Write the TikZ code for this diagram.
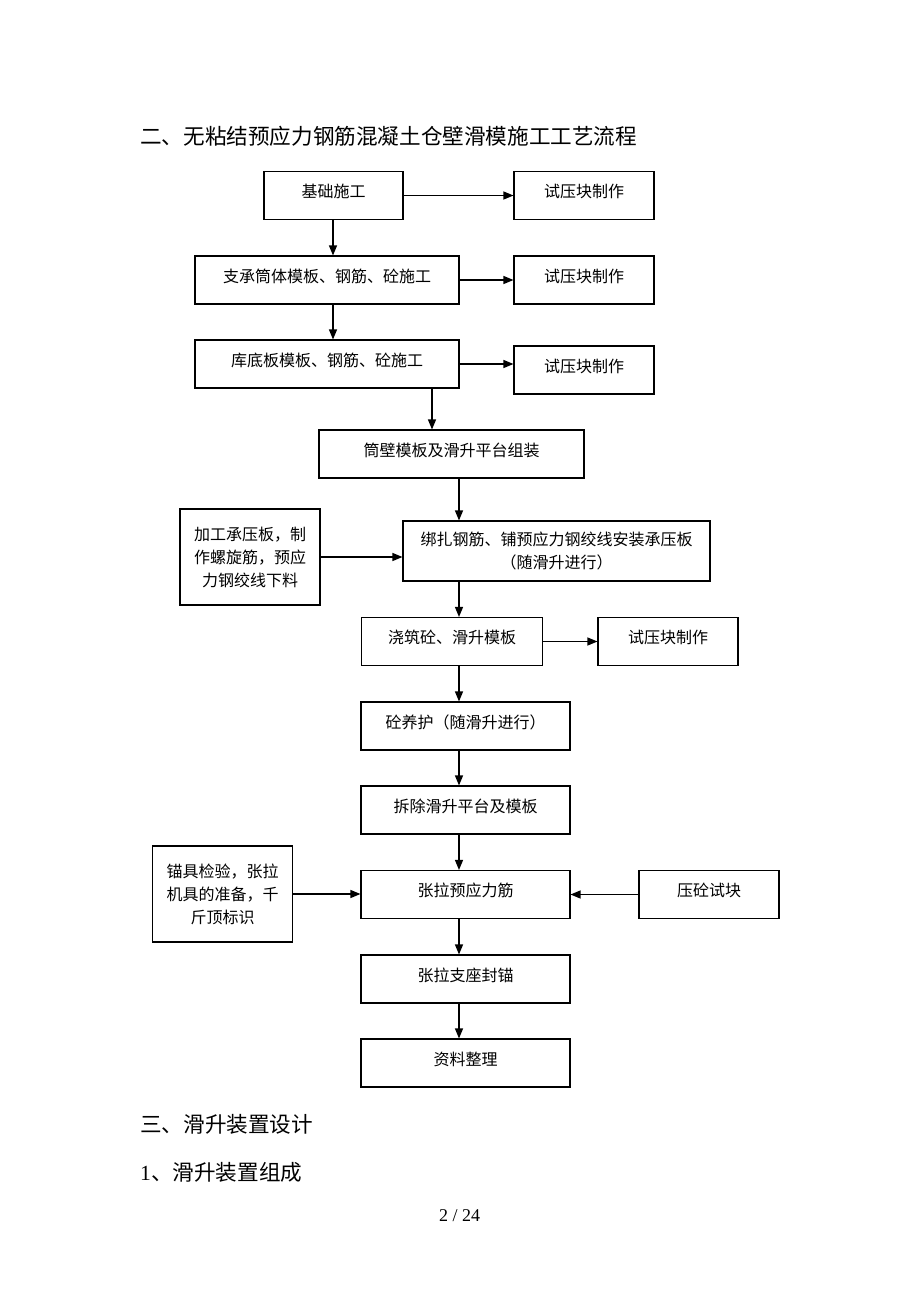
\documentclass[tikz,border=0pt]{standalone}
\usepackage{fontspec}
\setmainfont{Liberation Serif}
\newfontfamily\cjk{Noto Sans CJK SC}
\usetikzlibrary{arrows.meta}

\begin{document}
\begin{tikzpicture}[x=1pt, y=-1pt,
    stage/.style={rectangle, draw, line width=1.1pt, inner sep=0pt, text height=26pt, text depth=22pt,
        font=\cjk\fontsize{16pt}{23pt}\selectfont},
    note/.style={rectangle, draw, line width=1.1pt, inner sep=0pt, align=center,
        font=\cjk\fontsize{16pt}{23pt}\selectfont},
    heading/.style={anchor=west, inner sep=0pt, font=\cjk\fontsize{21.6pt}{26pt}\selectfont},
    arrow/.style={-{Triangle[length=10pt,width=8pt]}, line width=1.2pt}]

    \useasboundingbox (0,0) rectangle (920,1302);

    \node[heading] (title) at (140,136.5) {二、无粘结预应力钢筋混凝土仓壁滑模施工工艺流程};

    % main line
    \node[stage, minimum width=139pt] (jc) at (333.5,195.5) {基础施工};
    \node[stage, minimum width=264pt] (zc) at (327,280) {支承筒体模板、钢筋、砼施工};
    \node[stage, minimum width=264pt] (kd) at (327,364) {库底板模板、钢筋、砼施工};
    \node[stage, minimum width=265pt] (tb) at (451.5,454) {筒壁模板及滑升平台组装};
    \node[note, minimum width=307pt, minimum height=60pt] (bz) at (556.5,551) {绑扎钢筋、铺预应力钢绞线安装承压板\\（随滑升进行）};
    \node[stage, minimum width=181pt] (jz) at (452,641.5) {浇筑砼、滑升模板};
    \node[stage, minimum width=209pt] (yh) at (465.5,726) {砼养护（随滑升进行）};
    \node[stage, minimum width=209pt] (cc) at (465.5,810) {拆除滑升平台及模板};
    \node[stage, minimum width=209pt] (zl) at (465.5,894.5) {张拉预应力筋};
    \node[stage, minimum width=209pt] (fm) at (465.5,979) {张拉支座封锚};
    \node[stage, minimum width=209pt] (zlzl) at (465.5,1063) {资料整理};

    % side boxes
    \node[stage, minimum width=140pt] (sy1) at (584,195.5) {试压块制作};
    \node[stage, minimum width=140pt] (sy2) at (584,280) {试压块制作};
    \node[stage, minimum width=140pt] (sy3) at (584,370) {试压块制作};
    \node[stage, minimum width=140pt] (sy4) at (668,641.5) {试压块制作};
    \node[note, minimum width=140pt, minimum height=96pt] (jg) at (250,557) {加工承压板，制\\作螺旋筋，预应\\力钢绞线下料};
    \node[note, minimum width=140pt, minimum height=96pt] (mj) at (222.5,894) {锚具检验，张拉\\机具的准备，千\\斤顶标识};
    \node[stage, minimum width=140pt] (yd) at (709,894.5) {压砼试块};

    \coordinate (axisA) at (333,0);
    \coordinate (axisB) at (432,0);
    \coordinate (axisC) at (459,0);

    \draw[arrow] (jc.south -| axisA) -- (zc.north -| axisA);
    \draw[arrow] (zc.south -| axisA) -- (kd.north -| axisA);
    \draw[arrow] (kd.south -| axisB) -- (tb.north -| axisB);
    \foreach \a/\b in {tb/bz, bz/jz, jz/yh, yh/cc, cc/zl, zl/fm, fm/zlzl}
        \draw[arrow] (\a.south -| axisC) -- (\b.north -| axisC);

    \draw[arrow] (jc.east) -- (sy1.west);
    \draw[arrow] (zc.east) -- (sy2.west);
    \draw[arrow] (kd.east) -- (kd.east -| sy3.west);
    \draw[arrow] (jg.east) -- (jg.east -| bz.west);
    \draw[arrow] (jz.east) -- (sy4.west);
    \draw[arrow] (mj.east) -- (mj.east -| zl.west);
    \draw[arrow] (yd.west) -- (zl.east);

    \node[heading] (sec3) at (140,1124.5) {三、滑升装置设计};
    \node[heading] (sub1) at (140,1172) {\rmfamily\fontsize{21.6pt}{26pt}\selectfont 1\cjk 、滑升装置组成};
    \node[inner sep=0pt, font=\fontsize{18pt}{22pt}\selectfont] (page) at (459.5,1216) {2 / 24};
\end{tikzpicture}
\end{document}
